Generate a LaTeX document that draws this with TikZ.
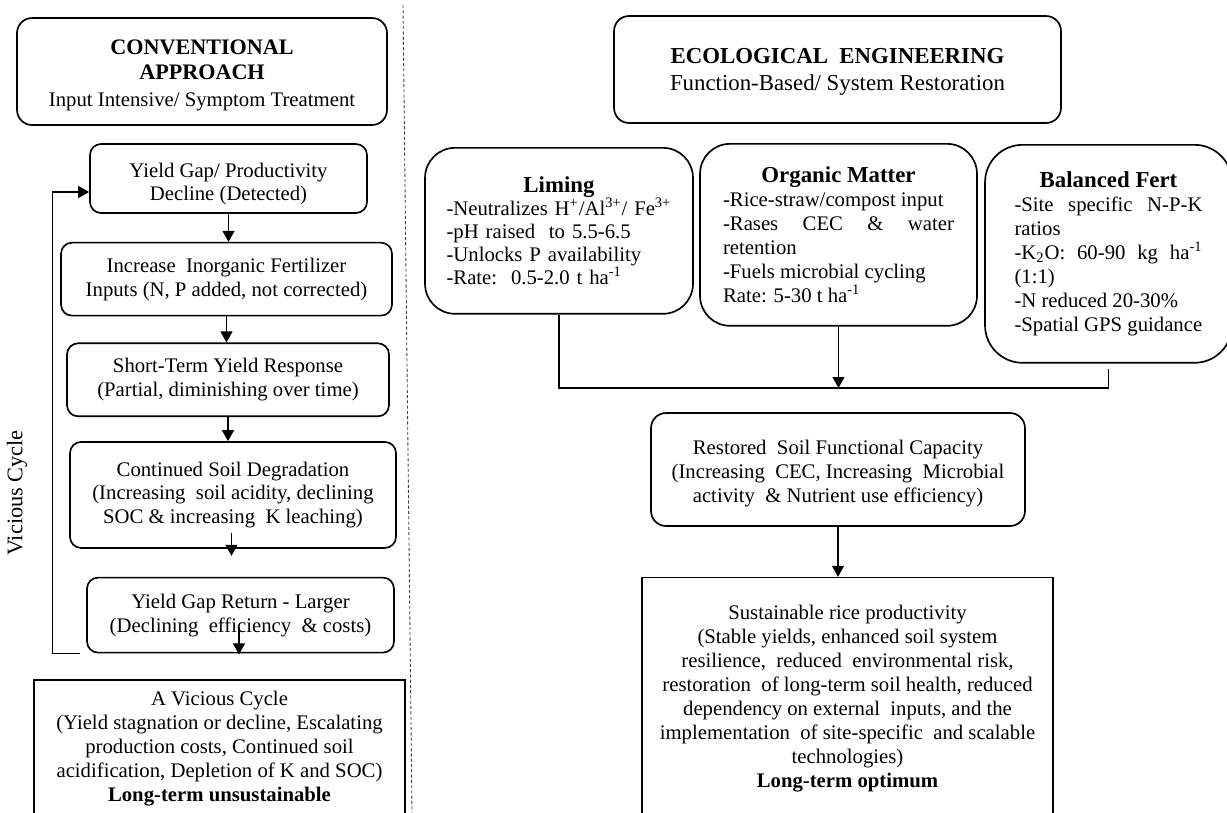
\documentclass[tikz,border=0pt]{standalone}
\usepackage{fontspec}
\setmainfont{Liberation Serif}
\usetikzlibrary{positioning,arrows.meta}
\newcommand{\bodyfont}{\fontsize{11.8}{13.6}\selectfont}
\newcommand{\headfont}{\fontsize{13}{15.4}\selectfont}
\newcommand{\cardtitle}{\fontsize{13}{15}\selectfont\bfseries}
\newcommand{\padtop}[1]{\rule{0pt}{#1}}
\setlength{\parindent}{0pt}
\begin{document}
\begin{tikzpicture}[x=0.02cm, y=-0.02cm,
  box/.style = {draw, line width=0.95pt, rounded corners=0.22cm, align=center, font=\bodyfont},
  head/.style = {box, rounded corners=0.3cm},
  card/.style = {draw, line width=0.95pt, rounded corners=0.6cm, anchor=north, font=\bodyfont},
  sumbox/.style = {draw, line width=0.95pt, align=center, anchor=north, font=\bodyfont},
  arr/.style = {-{Triangle[width=0.24cm, length=0.22cm]}, line width=0.6pt},
  link/.style = {line width=0.6pt}]
  \useasboundingbox (0,0) rectangle (1227,812);
  % headers
  \node[head, minimum width=7.4cm, minimum height=2.14cm] (conv) at (202,71.5)
    {{\fontsize{12.6}{14.6}\selectfont\bfseries\padtop{12.8pt}CONVENTIONAL}\\[0.5pt]{\fontsize{12.6}{14.6}\selectfont\bfseries APPROACH}\\[1.5pt]Input Intensive/ Symptom Treatment};
  \node[head, minimum width=8.94cm, minimum height=2.14cm, font=\headfont] (eco) at (837.5,69.5)
    {\textbf{\padtop{10.9pt}ECOLOGICAL\ \ ENGINEERING}\\Function-Based/ System Restoration};
  \draw[dash pattern=on 1.8pt off 1.2pt, line width=0.5pt, black!75] (403,5) -- (412,812);
  %
  % conventional cycle
  \node[box, minimum width=5.54cm, minimum height=1.38cm] (yg) at (228.5,178.5)
    {\padtop{14.5pt}Yield Gap/ Productivity\\Decline (Detected)};
  \node[box, minimum width=6.62cm, minimum height=1.46cm, below=0.56cm of yg, xshift=-0.04cm] (inc)
    {Increase\ \ Inorganic Fertilizer\\Inputs (N, P added, not corrected)};
  \node[box, minimum width=6.44cm, minimum height=1.46cm, below=0.52cm of inc, xshift=0.03cm] (st)
    {Short-Term Yield Response\\(Partial, diminishing over time)};
  \node[box, minimum width=6.52cm, minimum height=2.12cm, below=0.48cm of st, xshift=0.1cm] (deg)
    {Continued Soil Degradation\\(Increasing\ \ soil acidity, declining\\SOC \& increasing\ \ K leaching)};
  \node[box, minimum width=6.14cm, minimum height=1.5cm, below=0.56cm of deg, xshift=0.15cm] (ret)
    {Yield Gap Return - Larger\\(Declining\ \ efficiency\ \ \& costs)};
  \node[sumbox, minimum width=7.42cm, minimum height=2.74cm, below=0.52cm of ret, xshift=-0.42cm] (vc)
    {A Vicious Cycle\\(Yield stagnation or decline, Escalating\\production costs, Continued soil\\acidification, Depletion of K and SOC)\\\textbf{Long-term unsustainable}};
  \node[rotate=90, font=\fontsize{12.7}{15}\selectfont] (vclab) at (17,493) {Vicious Cycle};
  %
  \draw[arr] (yg.south) -- (yg.south |- inc.north);
  \draw[arr] (inc.south) -- (inc.south |- st.north);
  \draw[arr] (st.south) -- (st.south |- deg.north);
  \draw[arr] ([xshift=-0.03cm, yshift=0.32cm]deg.south) -- ([xshift=-0.03cm, yshift=-0.14cm]deg.south);
  \draw[arr] ([xshift=-0.03cm, yshift=0.52cm]ret.south) -- ([xshift=-0.03cm, yshift=-0.02cm]ret.south);
  \draw[arr] ([xshift=-0.12cm]ret.south west) -| ([xshift=-0.74cm, yshift=-0.27cm]yg.west) -- ([yshift=-0.27cm]yg.west);
  %
  % ecological engineering
  \node[card, minimum width=5.36cm, minimum height=3.32cm, text width=4.5cm, align=left, font=\fontsize{11.8}{13.1}\selectfont] (lim) at (559,147)
    {{\centering\cardtitle Liming\par}
     -Neutralizes H\textsuperscript{+}/Al\textsuperscript{3+}/ Fe\textsuperscript{3+}\\
     -pH raised\ \ to 5.5-6.5\\
     -Unlocks P availability\\
     -Rate:\ \ 0.5-2.0 t ha\textsuperscript{-1}};
  \node[card, minimum width=5.54cm, minimum height=3.64cm, text width=4.62cm, align=justify] (org) at (838.5,143)
    {{\centering\cardtitle Organic Matter\par}
     -Rice-straw/compost input\\
     -Rases CEC \& water\linebreak retention\\
     -Fuels microbial cycling\\
     Rate: 5-30 t ha\textsuperscript{-1}};
  \node[card, rounded corners=0.75cm, minimum width=4.94cm, minimum height=4.36cm, text width=3.76cm, align=justify] (bal) at (1108.5,144)
    {{\centering\cardtitle Balanced Fert\par}
     -Site specific N-P-K\linebreak ratios\\
     -K\textsubscript{2}O: 60-90 kg ha\textsuperscript{-1}\linebreak (1:1)\\
     -N reduced 20-30\%\\
     -Spatial GPS guidance};
  \coordinate (jn) at (839,388);
  \draw[link] (lim.south) -- (lim.south |- jn) -- (bal.south |- jn) -- ([yshift=-0.1cm]bal.south);
  \draw[arr] (org.south) -- (org.south |- jn);
  %
  \node[box, rounded corners=0.3cm, minimum width=7.48cm, minimum height=2.26cm] (res) at (838,469.5)
    {\padtop{12.6pt}Restored\ \ Soil Functional Capacity\\(Increasing\ \ CEC, Increasing\ \ Microbial\\activity\ \ \& Nutrient use efficiency)};
  \node[sumbox, minimum width=8.22cm, minimum height=4.84cm, below=1cm of res, xshift=0.19cm] (sus)
    {Sustainable rice productivity\\(Stable yields, enhanced soil system\\resilience,\ \ reduced\ \ environmental risk,\\restoration\ \ of long-term soil health, reduced\\dependency on external\ \ inputs, and the\\implementation\ \ of site-specific\ \ and scalable\\technologies)\\\textbf{Long-term optimum}};
  \draw[arr] (res.south) -- (res.south |- sus.north);
\end{tikzpicture}
\end{document}
